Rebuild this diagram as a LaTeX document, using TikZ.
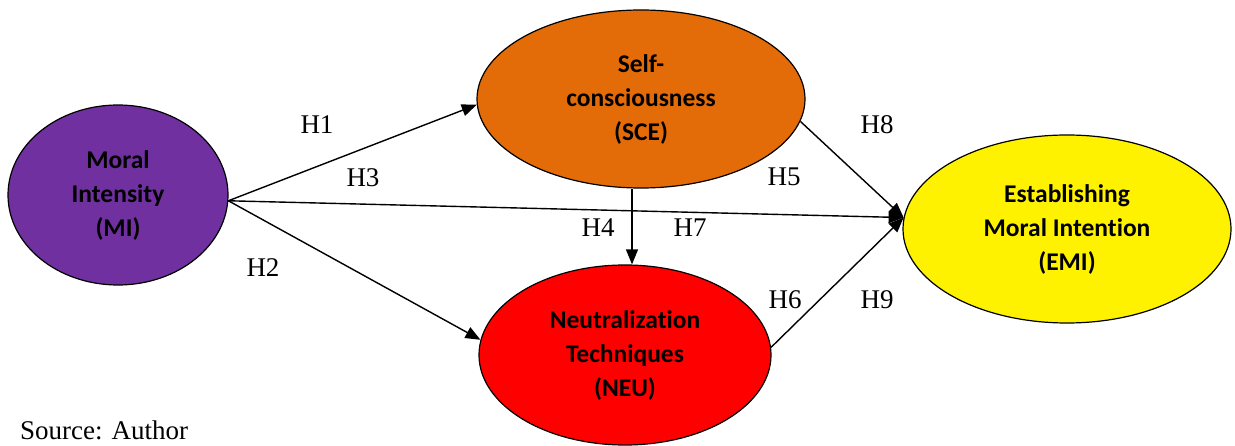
\documentclass[tikz,border=0pt]{standalone}
\usepackage{fontspec}
\setmainfont{Liberation Serif}
\newfontfamily\carlito[Ligatures=NoCommon]{Carlito}
\usetikzlibrary{shapes,arrows.meta}
\definecolor{mipurple}{HTML}{7030A0}
\definecolor{sceorange}{HTML}{E36C09}

\begin{document}
\begin{tikzpicture}[x=1pt,y=-1pt,
  construct/.style={ellipse,draw,line width=1.2pt,inner sep=0pt,align=center,
    font=\carlito\bfseries\fontsize{25.5}{34}\selectfont},
  arr/.style={line width=1.4pt,-{Triangle[length=15pt,width=12pt]}},
  hyp/.style={font=\fontsize{27}{30}\selectfont}]
\useasboundingbox (0,0) rectangle (1235,446);
% constructs
       \node [construct,fill=mipurple,minimum width=220pt,minimum height=180pt] (MI) at (118,195) {Moral\\Intensity\\(MI)};
       \node [construct,fill=sceorange,minimum width=328pt,minimum height=178pt] (SCE) at (641,99) {Self-\\consciousness\\(SCE)};
       \node [construct,fill=red,minimum width=292pt,minimum height=180pt] (NEU) at (625,355) {Neutralization\\Techniques\\(NEU)};
       \node [construct,fill=yellow,minimum width=328pt,minimum height=188pt] (EMI) at (1067,229) {Establishing\\Moral Intention\\(EMI)};
% paths
\draw [arr] (MI.-3)--(SCE.182) ;
\draw [arr] (MI.-3)--(NEU.174) ;
\draw [arr] (MI.-3)--(EMI.176) ;
\draw [arr] (SCE.south -| 632,0)--(NEU.north -| 632,0) ;
\draw [arr] (SCE.-8)--(EMI.176) ;
\draw [arr] (NEU.3)--(EMI.176) ;
% hypotheses
       \node [hyp] (h1) at (317,125) {H1};
       \node [hyp] (h2) at (263,268) {H2};
       \node [hyp] (h3) at (363,178) {H3};
       \node [hyp] (h4) at (598,228) {H4};
       \node [hyp] (h5) at (784,177) {H5};
       \node [hyp] (h6) at (785,300) {H6};
       \node [hyp] (h7) at (690,228) {H7};
       \node [hyp] (h8) at (877,125) {H8};
       \node [hyp] (h9) at (877,300) {H9};
       \node [hyp,anchor=base west,inner sep=0pt] (src) at (20,439) {Source: Author};
\end{tikzpicture}
\end{document}
